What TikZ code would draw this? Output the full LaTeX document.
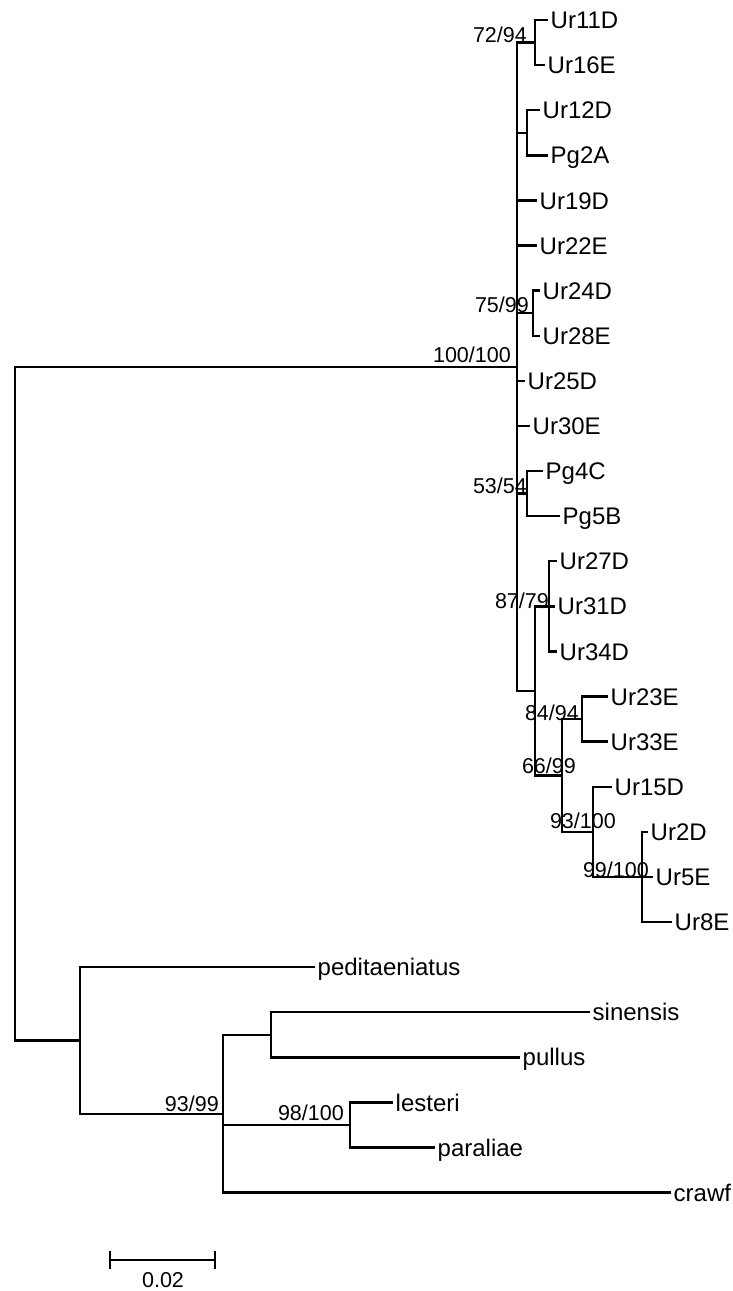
\documentclass[tikz,border=0pt]{standalone}
\usepackage{fontspec}
\setmainfont{Liberation Sans}
\begin{document}
\begin{tikzpicture}[x=1pt, y=-1pt, line width=2.4pt,
    leaf/.style={anchor=west, inner xsep=1.5pt, inner ysep=0pt, text height=17.2pt, text depth=0pt, font=\fontsize{24}{28}\selectfont},
    boot/.style={anchor=base east, inner sep=0pt, font=\fontsize{21.5}{25}\selectfont}]
        \useasboundingbox (0,0) rectangle (733,1291);

        % Inner nodes of the tree
        \coordinate (root) at (15, 703.5);
        \coordinate (n100) at (517, 366.7);
        \coordinate (n7294) at (535, 42.6);
        \coordinate (n12) at (527, 132.8);
        \coordinate (n7599) at (533, 313.2);
        \coordinate (n5354) at (527, 493.6);
        \coordinate (nlow) at (535, 690.9);
        \coordinate (n8779) at (549, 606.3);
        \coordinate (n6699) at (562, 775.4);
        \coordinate (n8494) at (582, 719.1);
        \coordinate (n93100) at (593, 831.8);
        \coordinate (n99100) at (642, 876.9);
        \coordinate (nout) at (80, 1040.4);
        \coordinate (n9399) at (223, 1113.7);
        \coordinate (nsp) at (271, 1034.8);
        \coordinate (n98100) at (350, 1125.0);

        % Taxa
        \node[leaf] (ur11d) at (548, 20.0) {Ur11D};
        \node[leaf] (ur16e) at (545, 65.1) {Ur16E};
        \node[leaf] (ur12d) at (540, 110.2) {Ur12D};
        \node[leaf] (pg2a) at (548, 155.3) {Pg2A};
        \node[leaf] (ur19d) at (537, 200.4) {Ur19D};
        \node[leaf] (ur22e) at (537, 245.5) {Ur22E};
        \node[leaf] (ur24d) at (540, 290.6) {Ur24D};
        \node[leaf] (ur28e) at (540, 335.7) {Ur28E};
        \node[leaf] (ur25d) at (525, 380.8) {Ur25D};
        \node[leaf] (ur30e) at (530, 425.9) {Ur30E};
        \node[leaf] (pg4c) at (543, 471.0) {Pg4C};
        \node[leaf] (pg5b) at (560, 516.1) {Pg5B};
        \node[leaf] (ur27d) at (557, 561.2) {Ur27D};
        \node[leaf] (ur31d) at (555, 606.3) {Ur31D};
        \node[leaf] (ur34d) at (557, 651.4) {Ur34D};
        \node[leaf] (ur23e) at (608, 696.5) {Ur23E};
        \node[leaf] (ur33e) at (608, 741.6) {Ur33E};
        \node[leaf] (ur15d) at (612, 786.7) {Ur15D};
        \node[leaf] (ur2d) at (648, 831.8) {Ur2D};
        \node[leaf] (ur5e) at (653, 876.9) {Ur5E};
        \node[leaf] (ur8e) at (672, 922.0) {Ur8E};
        \node[leaf] (pedit) at (315, 967.1) {peditaeniatus};
        \node[leaf] (sinen) at (590, 1012.2) {sinensis};
        \node[leaf] (pullus) at (520, 1057.3) {pullus};
        \node[leaf] (lesteri) at (393, 1102.4) {lesteri};
        \node[leaf] (paral) at (435, 1147.5) {paraliae};
        \node[leaf] (crawf) at (671, 1192.6) {crawf};

        % Branches
        \draw (root) |- (n100);
        \draw (root) |- (nout);
        \draw (n100) |- (n7294);
        \draw (n100) |- (n12);
        \draw (n100) |- (ur19d.west);
        \draw (n100) |- (ur22e.west);
        \draw (n100) |- (n7599);
        \draw (n100) |- (ur25d.west);
        \draw (n100) |- (ur30e.west);
        \draw (n100) |- (n5354);
        \draw (n100) |- (nlow);
        \draw (n7294) |- (ur11d.west);
        \draw (n7294) |- (ur16e.west);
        \draw (n12) |- (ur12d.west);
        \draw (n12) |- (pg2a.west);
        \draw (n7599) |- (ur24d.west);
        \draw (n7599) |- (ur28e.west);
        \draw (n5354) |- (pg4c.west);
        \draw (n5354) |- (pg5b.west);
        \draw (nlow) |- (n8779);
        \draw (nlow) |- (n6699);
        \draw (n8779) |- (ur27d.west);
        \draw (n8779) |- (ur31d.west);
        \draw (n8779) |- (ur34d.west);
        \draw (n6699) |- (n8494);
        \draw (n6699) |- (n93100);
        \draw (n8494) |- (ur23e.west);
        \draw (n8494) |- (ur33e.west);
        \draw (n93100) |- (ur15d.west);
        \draw (n93100) |- (n99100);
        \draw (n99100) |- (ur2d.west);
        \draw (n99100) |- (ur5e.west);
        \draw (n99100) |- (ur8e.west);
        \draw (nout) |- (pedit.west);
        \draw (nout) |- (n9399);
        \draw (n9399) |- (nsp);
        \draw (n9399) |- (n98100);
        \draw (n9399) |- (crawf.west);
        \draw (nsp) |- (sinen.west);
        \draw (nsp) |- (pullus.west);
        \draw (n98100) |- (lesteri.west);
        \draw (n98100) |- (paral.west);

        % Bootstrap values
        \node[boot] (b100) at (512, 362) {100/100};
        \node[boot] (b7294) at (528, 42) {72/94};
        \node[boot] (b7599) at (530, 312) {75/99};
        \node[boot] (b5354) at (528, 493) {53/54};
        \node[boot] (b8779) at (550, 608) {87/79};
        \node[boot] (b8494) at (580, 720) {84/94};
        \node[boot] (b6699) at (577, 773) {66/99};
        \node[boot] (b93100) at (617, 828) {93/100};
        \node[boot] (b99100) at (650, 877) {99/100};
        \node[boot] (b9399) at (220, 1111) {93/99};
        \node[boot] (b98100) at (345, 1120) {98/100};

        % Scale bar
        \coordinate (sbl) at (110, 1260);
        \coordinate (sbr) at (215, 1260);
        \draw (sbl) -- (sbr);
        \draw ([yshift=9pt]sbl) -- ([yshift=-9pt]sbl);
        \draw ([yshift=9pt]sbr) -- ([yshift=-9pt]sbr);
        \node[boot, anchor=base] (sblab) at (163, 1287) {0.02};
    \end{tikzpicture}
\end{document}
